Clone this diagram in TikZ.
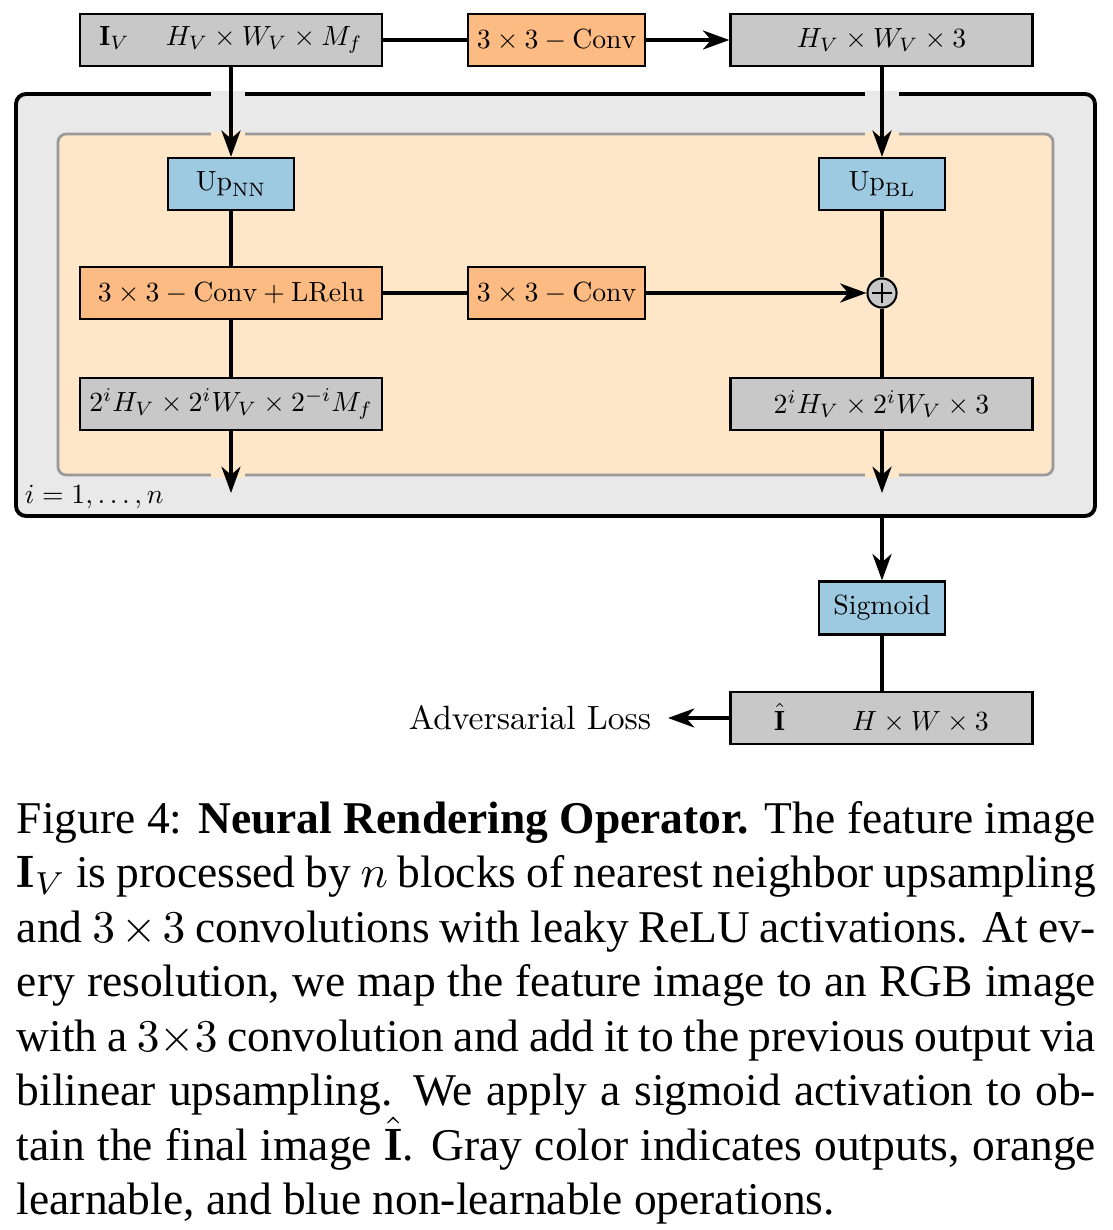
\documentclass[tikz,border=0pt]{standalone}
\usepackage{fontspec}
\usepackage{graphicx}
\newfontfamily\capfont{Liberation Serif}
\usetikzlibrary{arrows.meta,calc}
\definecolor{boxgray}{HTML}{C8C8C8}
\definecolor{boxorange}{HTML}{FDBB84}
\definecolor{boxblue}{HTML}{9ECAE1}
\definecolor{innerfill}{HTML}{FEE6C8}
\definecolor{outerfill}{HTML}{E9E9E9}
\definecolor{innerline}{HTML}{999999}
\newcommand{\boxtxt}[1]{\scalebox{0.61}{#1}}
\tikzset{
  opbox/.style={draw=black, line width=0.55pt, inner sep=0pt, minimum height=11.4pt},
  graybox/.style={opbox, fill=boxgray, minimum width=66.44pt},
  convbox/.style={opbox, fill=boxorange, minimum width=38.94pt},
  upbox/.style={opbox, fill=boxblue, minimum width=27.72pt},
  conn/.style={line width=0.75pt},
  arr/.style={conn, -{Stealth[length=5.8pt,width=4.2pt,inset=1.8pt]}},
}
\begin{document}
\begin{tikzpicture}[x=0.22pt, y=-0.22pt]
\useasboundingbox (0,0) rectangle (1112,1230);
% containers
\node[draw=black, line width=0.85pt, fill=outerfill, rounded corners=2.2pt,
  minimum width=237.38pt, minimum height=92.84pt, inner sep=0pt] (outer) at (555.5,305) {};
\node[draw=innerline, line width=0.6pt, fill=innerfill, rounded corners=1.8pt,
  minimum width=218.9pt, minimum height=75.02pt, inner sep=0pt] (inner) at (555.5,304.5) {};
% gaps in the borders where the arrows cross
\fill[outerfill] (211,91.5) rectangle (245,97);
\fill[outerfill] (865,91.5) rectangle (899,97);
\fill[innerfill] (211,132) rectangle (245,136.5);
\fill[innerfill] (865,132) rectangle (899,136.5);
\fill[innerfill] (211,472.5) rectangle (245,478);
\fill[innerfill] (865,472.5) rectangle (899,478);
% top row
\node[graybox] (iv) at (231,40) {\boxtxt{$\mathbf{I}_V\hspace{13pt}H_V\times W_V\times M_f$}};
\node[convbox] (conva) at (556.5,40) {\boxtxt{$3\times 3-\mathrm{Conv}$}};
\node[graybox] (hva) at (881.5,40) {\boxtxt{$H_V\times W_V\times 3$}};
% block
\node[upbox] (upnn) at (231,184) {\boxtxt{$\mathrm{Up}_{\mathrm{NN}}$}};
\node[upbox] (upbl) at (882,184) {\boxtxt{$\mathrm{Up}_{\mathrm{BL}}$}};
\node[convbox, minimum width=66.44pt] (convl) at (231,293) {\boxtxt{$3\times 3-\mathrm{Conv}+\mathrm{LRelu}$}};
\node[convbox] (convb) at (556.5,293) {\boxtxt{$3\times 3-\mathrm{Conv}$}};
\node[circle, draw=black, line width=0.45pt, fill=boxgray, minimum size=6.4pt, inner sep=0pt] (plus) at (882,293) {};
\draw[line width=0.3pt] ($(plus.center)+(-2.2pt,0)$) -- ($(plus.center)+(2.2pt,0)$)
  ($(plus.center)+(0,-2.2pt)$) -- ($(plus.center)+(0,2.2pt)$);
\node[graybox] (feat) at (231,404) {\boxtxt{$2^iH_V\times 2^iW_V\times 2^{-i}M_f$}};
\node[graybox] (rgb) at (881.5,404) {\boxtxt{$2^iH_V\times 2^iW_V\times 3$}};
\coordinate (lend) at (231,493);
\coordinate (rend) at (882,493);
\node[anchor=west, inner sep=0pt] (idx) at (24,497) {\boxtxt{$i=1,\ldots,n$}};
% bottom
\node[upbox, minimum height=11.6pt] (sig) at (882,608) {\boxtxt{Sigmoid}};
\node[graybox] (ihat) at (881.5,718) {\boxtxt{$\hat{\mathbf{I}}\hspace{24pt}H\times W\times 3$}};
\node[anchor=east, inner xsep=3.5pt, inner ysep=0pt] (adv) at (668,718) {\scalebox{0.74}{Adversarial Loss}};
% connectors
\draw[conn] (iv) -- (conva);
\draw[arr] (conva) -- (hva);
\draw[arr] (iv.south) -- (upnn.north);
\draw[arr] (hva.south -| upbl) -- (upbl.north);
\draw[conn] (upnn) -- (convl);
\draw[conn] (convl) -- (convb);
\draw[arr] (convb) -- (plus);
\draw[conn] (upbl) -- (plus);
\draw[conn] (plus) -- (rgb.north -| plus);
\draw[conn] (convl) -- (feat);
\draw[arr] (feat.south) -- (lend);
\draw[arr] (rgb.south -| rend) -- (rend);
\draw[arr] (outer.south -| sig) -- (sig.north);
\draw[conn] (sig) -- (ihat.north -| sig);
\draw[arr] (ihat) -- (adv);
% caption
\node[anchor=north west, inner sep=0pt, text width=237.4pt, align=justify,
  font=\capfont\fontsize{10}{12}\selectfont] (cap) at (16,794)
{\hyphenpenalty=10000\exhyphenpenalty=10000\tolerance=9999\strut Figure 4: \textbf{Neural Rendering Operator.} The feature image\linebreak
$\mathbf{I}_V$ is processed by $n$ blocks of nearest neighbor upsampling\linebreak
and $3\times 3$ convolutions with leaky ReLU activations. At ev-\linebreak
ery resolution, we map the feature image to an RGB image\linebreak
with a $3{\times}3$ convolution and add it to the previous output via\linebreak
bilinear upsampling. We apply a sigmoid activation to ob-\linebreak
tain the final image $\hat{\mathbf{I}}$. Gray color indicates outputs, orange\linebreak
learnable, and blue non-learnable operations.};
\end{tikzpicture}
\end{document}
